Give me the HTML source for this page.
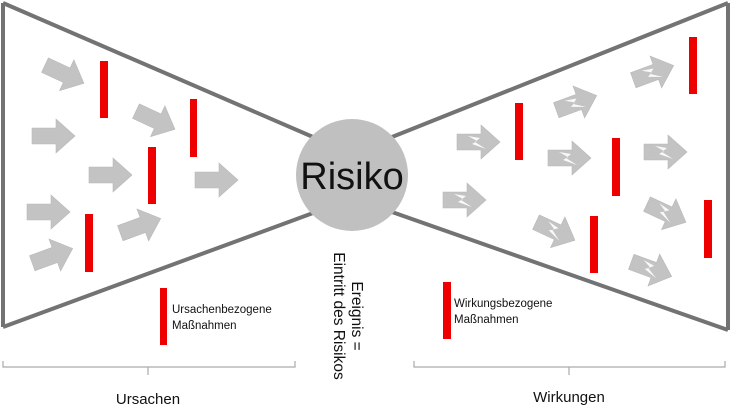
<!DOCTYPE html>
<html><head><meta charset="utf-8"><style>
html,body{margin:0;padding:0;background:#fff;width:730px;height:418px;overflow:hidden}
svg{display:block}
text{font-family:"Liberation Sans",sans-serif;fill:#111}
</style></head><body>
<svg width="730" height="418" viewBox="0 0 730 418" xmlns="http://www.w3.org/2000/svg">
<defs>
<path id="a" d="M-21,-8 H3 V-17 L22,0 L3,17 V8 H-21 Z" fill="#c3c3c3" stroke="#b8b8b8" stroke-width="0.6"/>
<g id="b"><use href="#a"/><path d="M-10,-6 L2,-4 L-3,0 L8,7 L-6,2 L-1,-1 Z" fill="#fff" opacity="0.9"/></g>
</defs>
<g stroke="#737373" stroke-width="4" fill="none" stroke-linejoin="miter">
<path d="M3,3 L3,327"/><path d="M3,3 L313,137"/><path d="M3,327 L313,213"/>
<path d="M728,3 L728,330"/><path d="M728,3 L392,137"/><path d="M728,330 L392,212"/>
</g>
<circle cx="352" cy="175" r="56" fill="#c0c0c0"/>
<text x="352" y="189" font-size="38" text-anchor="middle">Risiko</text>
<use href="#a" transform="translate(64,74) rotate(25)"/>
<use href="#a" transform="translate(53,136)"/>
<use href="#a" transform="translate(155,120) rotate(25)"/>
<use href="#a" transform="translate(110,175)"/>
<use href="#a" transform="translate(216,180)"/>
<use href="#a" transform="translate(48,212)"/>
<use href="#a" transform="translate(140,226) rotate(-20)"/>
<use href="#a" transform="translate(52,256) rotate(-20)"/>
<use href="#b" transform="translate(478,142)"/>
<use href="#b" transform="translate(464,200)"/>
<use href="#b" transform="translate(576,103) rotate(-20)"/>
<use href="#b" transform="translate(569,158)"/>
<use href="#b" transform="translate(665,152)"/>
<use href="#b" transform="translate(653,73) rotate(-20)"/>
<use href="#b" transform="translate(555,231) rotate(25)"/>
<use href="#b" transform="translate(666,213) rotate(25)"/>
<use href="#b" transform="translate(651,269) rotate(20)"/>
<g fill="#ee0000">
<rect x="100" y="61" width="8" height="57"/><rect x="190" y="99" width="7" height="58"/>
<rect x="148" y="147" width="8" height="57"/><rect x="85" y="214" width="8" height="58"/>
<rect x="160" y="288" width="7" height="57"/>
<rect x="515" y="103" width="8" height="57"/><rect x="612" y="138" width="8" height="58"/>
<rect x="590" y="216" width="8" height="57"/><rect x="689" y="37" width="8" height="57"/>
<rect x="704" y="200" width="8" height="58"/><rect x="443" y="282" width="8" height="57"/>
</g>
<text x="172" y="313" font-size="11.5">Ursachenbezogene</text>
<text x="172" y="329" font-size="11.5">Maßnahmen</text>
<text x="454" y="307" font-size="11.5">Wirkungsbezogene</text>
<text x="454" y="323" font-size="11.5">Maßnahmen</text>
<g transform="translate(358,316) rotate(90)" font-size="15.5" text-anchor="middle">
<text x="0" y="6">Ereignis =</text>
<text x="0" y="24">Eintritt des Risikos</text>
</g>
<g stroke="#aaa" stroke-width="1.2" fill="none">
<path d="M3,361 V367 H295 V361 M148,367 V375"/>
<path d="M414,361 V367 H725 V361 M569,367 V375"/>
</g>
<text x="148" y="404" font-size="15" text-anchor="middle">Ursachen</text>
<text x="569" y="402" font-size="15" text-anchor="middle">Wirkungen</text>
</svg>
</body></html>
